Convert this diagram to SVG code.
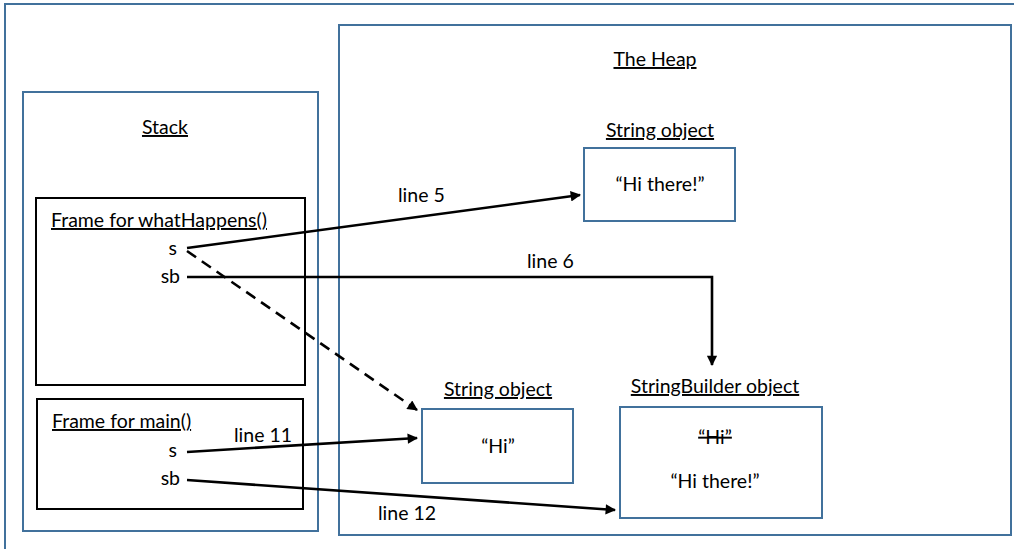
<svg xmlns="http://www.w3.org/2000/svg" width="1014" height="549" viewBox="0 0 1014 549">
<style>
  .blue { fill: #ffffff; stroke: #41719C; stroke-width: 2; }
  .frame { fill: #ffffff; stroke: #000000; stroke-width: 2; }
  text { font-family: "Lato", "Liberation Sans", sans-serif; font-size: 19.5px; fill: #000000; }
  .u { text-decoration: underline; }
  .c { text-anchor: middle; }
  .r { text-anchor: end; }
  .conn { fill: none; stroke: #000000; stroke-width: 2.6; }
  .dash { stroke-dasharray: 11 7; }
</style>
<defs>
  <marker id="ah" viewBox="0 0 10 10" refX="9" refY="5" markerWidth="5" markerHeight="4" markerUnits="strokeWidth" orient="auto">
    <path d="M0,0 L10,5 L0,10 z" fill="#000000"/>
  </marker>
</defs>
<rect width="1014" height="549" fill="#ffffff"/>
<rect id="outer" x="5" y="4" width="1020" height="560" fill="none" stroke="#41719C" stroke-width="2"/>

<g id="stack">
  <rect class="blue" x="23" y="92" width="295" height="439"/>
  <text class="u c" x="165" y="134">Stack</text>
</g>
<g id="heap">
  <rect class="blue" x="339" y="25" width="672" height="510"/>
  <text class="u c" x="655" y="66">The Heap</text>
</g>

<g id="frame-whatHappens">
  <rect class="frame" x="36" y="198" width="269" height="187"/>
  <text class="u" x="51" y="227">Frame for whatHappens()</text>
  <text class="r" x="177" y="255">s</text>
  <text class="r" x="180" y="283">sb</text>
</g>
<g id="frame-main">
  <rect class="frame" x="37" y="399" width="266" height="110"/>
  <text class="u" x="52" y="428">Frame for main()</text>
  <text class="r" x="177" y="457">s</text>
  <text class="r" x="180" y="485">sb</text>
</g>

<g id="string-hithere">
  <text class="u c" x="660" y="137">String object</text>
  <rect class="blue" x="584" y="148" width="151" height="73"/>
  <text class="c" x="660" y="191">“Hi there!”</text>
</g>
<g id="string-hi">
  <text class="u c" x="498" y="396">String object</text>
  <rect class="blue" x="422" y="409" width="151" height="74"/>
  <text class="c" x="498" y="453">“Hi”</text>
</g>
<g id="stringbuilder">
  <text class="u c" x="715" y="393">StringBuilder object</text>
  <rect class="blue" x="620" y="407" width="202" height="111"/>
  <text class="c" x="715" y="444" text-decoration="line-through">“Hi”</text>
  <text class="c" x="715" y="488">“Hi there!”</text>
</g>

<g id="connectors">
  <path class="conn" d="M187,248 L580,195" marker-end="url(#ah)"/>
  <path class="conn" d="M187,277 L712,277 L712,365" marker-end="url(#ah)"/>
  <path class="conn dash" d="M187,251 L417,410" marker-end="url(#ah)"/>
  <path class="conn" d="M187,452 L417,438" marker-end="url(#ah)"/>
  <path class="conn" d="M187,480 L615,510" marker-end="url(#ah)"/>
  <text x="398" y="202">line 5</text>
  <text x="527" y="268">line 6</text>
  <text x="234" y="442">line 11</text>
  <text x="378" y="520">line 12</text>
</g>
</svg>
